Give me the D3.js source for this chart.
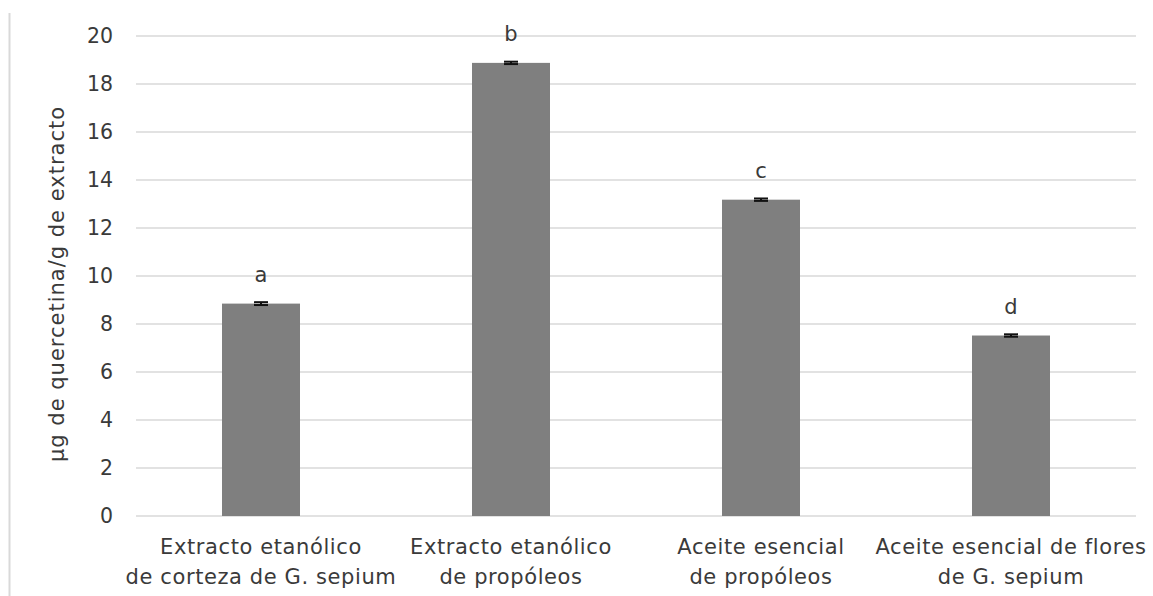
<!DOCTYPE html>
<html>
<head>
<meta charset="utf-8">
<script src="https://cdn.jsdelivr.net/npm/d3@7"></script>
<style>
  body { margin: 0; background: #fff; }
  text { font-family: "DejaVu Sans", Verdana, sans-serif; fill: #3a3a3a; }
</style>
</head>
<body>
<div id="chart"></div>
<script>
// data
const categories = [
  ["Extracto etanólico", "de corteza de G. sepium"],
  ["Extracto etanólico", "de propóleos"],
  ["Aceite esencial", "de propóleos"],
  ["Aceite esencial de flores", "de G. sepium"]
]
const values = [8.85, 18.88, 13.18, 7.52]
const errors = [0.06, 0.05, 0.05, 0.05]
const letters = ["a", "b", "c", "d"]
const yTicks = [0, 2, 4, 6, 8, 10, 12, 14, 16, 18, 20]

const W = 1153, H = 596
const MARGIN = { LEFT: 136, RIGHT: 17, TOP: 36, BOTTOM: 80 }
const WIDTH = W - MARGIN.LEFT - MARGIN.RIGHT
const HEIGHT = H - MARGIN.TOP - MARGIN.BOTTOM

const svg = d3.select("#chart")
  .append("svg")
  .attr("width", W)
  .attr("height", H)

// chart area edge on the left
svg.append("line")
  .attr("x1", 9.5).attr("x2", 9.5)
  .attr("y1", 13).attr("y2", H)
  .attr("stroke", "#d9d9d9")
  .attr("stroke-width", 2)

const g = svg.append("g")
  .attr("transform", `translate(${MARGIN.LEFT}, ${MARGIN.TOP})`)

const x = d3.scaleBand()
  .domain(d3.range(values.length))
  .range([0, WIDTH])
  .paddingInner(0.688)
  .paddingOuter(0.344)

const y = d3.scaleLinear()
  .domain([0, 20])
  .range([HEIGHT, 0])

// gridlines
g.append("g")
  .selectAll("line")
  .data(yTicks)
  .enter().append("line")
  .attr("x1", 0)
  .attr("x2", WIDTH)
  .attr("y1", d => y(d))
  .attr("y2", d => y(d))
  .attr("stroke", "#d9d9d9")
  .attr("stroke-width", 1.5)

// y axis labels
const yAxisCall = d3.axisLeft(y).tickValues(yTicks).tickSize(0).tickPadding(23)
const yAxis = g.append("g").call(yAxisCall)
yAxis.select(".domain").remove()
yAxis.selectAll("text")
  .attr("font-size", "20.5px")
  .attr("font-family", null)
  .attr("fill", null)

// y label
g.append("text")
  .attr("x", -HEIGHT / 2 - 8)
  .attr("y", -72)
  .attr("font-size", "21px")
  .attr("letter-spacing", "1px")
  .attr("text-anchor", "middle")
  .attr("transform", "rotate(-90)")
  .text("µg de quercetina/g de extracto")

// bars
g.selectAll("rect")
  .data(values)
  .enter().append("rect")
  .attr("x", (d, i) => x(i))
  .attr("y", d => y(d))
  .attr("width", x.bandwidth())
  .attr("height", d => HEIGHT - y(d))
  .attr("fill", "#7f7f7f")

// error bars
const eb = g.append("g").selectAll("g")
  .data(values)
  .enter().append("g")
  .attr("stroke", "#111")
  .attr("stroke-width", 2)
eb.append("line")
  .attr("x1", (d, i) => x(i) + x.bandwidth() / 2)
  .attr("x2", (d, i) => x(i) + x.bandwidth() / 2)
  .attr("y1", (d, i) => y(d + errors[i]))
  .attr("y2", (d, i) => y(d - errors[i]))
eb.append("line")
  .attr("x1", (d, i) => x(i) + x.bandwidth() / 2 - 7)
  .attr("x2", (d, i) => x(i) + x.bandwidth() / 2 + 7)
  .attr("y1", (d, i) => y(d + errors[i]))
  .attr("y2", (d, i) => y(d + errors[i]))
eb.append("line")
  .attr("x1", (d, i) => x(i) + x.bandwidth() / 2 - 7)
  .attr("x2", (d, i) => x(i) + x.bandwidth() / 2 + 7)
  .attr("y1", (d, i) => y(d - errors[i]))
  .attr("y2", (d, i) => y(d - errors[i]))

// significance letters
g.selectAll(".letter")
  .data(values)
  .enter().append("text")
  .attr("class", "letter")
  .attr("x", (d, i) => x(i) + x.bandwidth() / 2)
  .attr("y", d => y(d) - 22)
  .attr("font-size", "21px")
  .attr("text-anchor", "middle")
  .text((d, i) => letters[i])

// category labels
const cat = g.selectAll(".cat")
  .data(categories)
  .enter().append("text")
  .attr("class", "cat")
  .attr("font-size", "21px")
  .attr("letter-spacing", "0.6px")
  .attr("text-anchor", "middle")
  .attr("transform", (d, i) => `translate(${x(i) + x.bandwidth() / 2}, ${HEIGHT + 38})`)
cat.selectAll("tspan")
  .data(d => d)
  .enter().append("tspan")
  .attr("x", 0)
  .attr("dy", (d, j) => j === 0 ? 0 : 30)
  .text(d => d)
</script>
</body>
</html>
